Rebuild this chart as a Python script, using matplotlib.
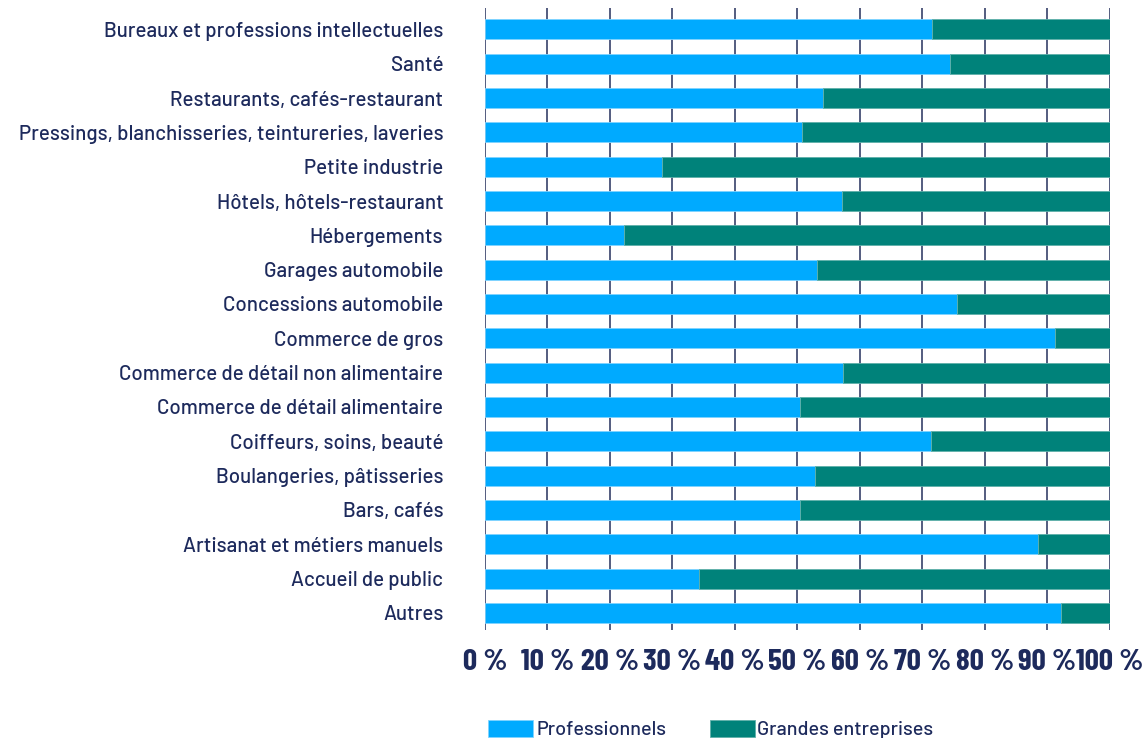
import matplotlib
matplotlib.use("Agg")
import matplotlib.pyplot as plt
import numpy as np

categories = [
    "Bureaux et professions intellectuelles",
    "Santé",
    "Restaurants, cafés-restaurant",
    "Pressings, blanchisseries, teintureries, laveries",
    "Petite industrie",
    "Hôtels, hôtels-restaurant",
    "Hébergements",
    "Garages automobile",
    "Concessions automobile",
    "Commerce de gros",
    "Commerce de détail non alimentaire",
    "Commerce de détail alimentaire",
    "Coiffeurs, soins, beauté",
    "Boulangeries, pâtisseries",
    "Bars, cafés",
    "Artisanat et métiers manuels",
    "Accueil de public",
    "Autres",
]
professionnels = [71.5, 74.5, 54.2, 50.7, 28.4, 57.2, 22.2, 53.1, 75.6, 91.2,
                  57.3, 50.5, 71.4, 52.8, 50.5, 88.5, 34.2, 92.2]
grandes = [100 - p for p in professionnels]
ticks = [0, 10, 20, 30, 40, 50, 60, 70, 80, 90, 100]
tick_labels = [f"{t}\u2009%" for t in ticks]

NAVY = "#1d2a5c"
BLUE = "#00AAFF"
TEAL = "#00827A"
LABEL_FONT = ["Barlow", "Open Sans", "DejaVu Sans"]

fig = plt.figure(figsize=(11.45, 7.38), dpi=100)
ax = fig.add_axes([0.4236, 0.1463, 0.969 - 0.4236, 0.989 - 0.1463])

y = np.arange(len(categories))
ax.barh(y, professionnels, height=0.58, color=BLUE, edgecolor="#7fd3ff",
        linewidth=0.6, zorder=3, label="Professionnels")
ax.barh(y, grandes, left=professionnels, height=0.58, color=TEAL,
        edgecolor="#5fb0aa", linewidth=0.6, zorder=3, label="Grandes entreprises")

ax.set_xlim(0, 100)
ax.set_ylim(len(categories) - 0.5, -0.62)
for t in ticks:
    ax.axvline(t, color="#26315e", lw=1.3, alpha=0.85, zorder=1)

ax.set_yticks(y)
ax.set_yticklabels(categories, fontsize=14.8, color=NAVY, family=LABEL_FONT,
                   fontweight="medium")
ax.set_xticks(ticks)
ax.set_xticklabels(tick_labels, fontsize=22.5, color=NAVY, fontweight="bold",
                   family=["Barlow Condensed", "DejaVu Sans"])
ax.tick_params(axis="y", length=0, pad=30)
ax.tick_params(axis="x", length=0, pad=14)
for s in ax.spines.values():
    s.set_visible(False)

fig.legend(loc="lower left", bbox_to_anchor=(0.411, -0.026), ncol=2, frameon=False,
           prop={"family": LABEL_FONT, "size": 14.3, "weight": "medium"}, labelcolor=NAVY,
           handlelength=2.25, handleheight=1.0, columnspacing=2.2, handletextpad=0.15)

fig.savefig("out.png", dpi=100)
